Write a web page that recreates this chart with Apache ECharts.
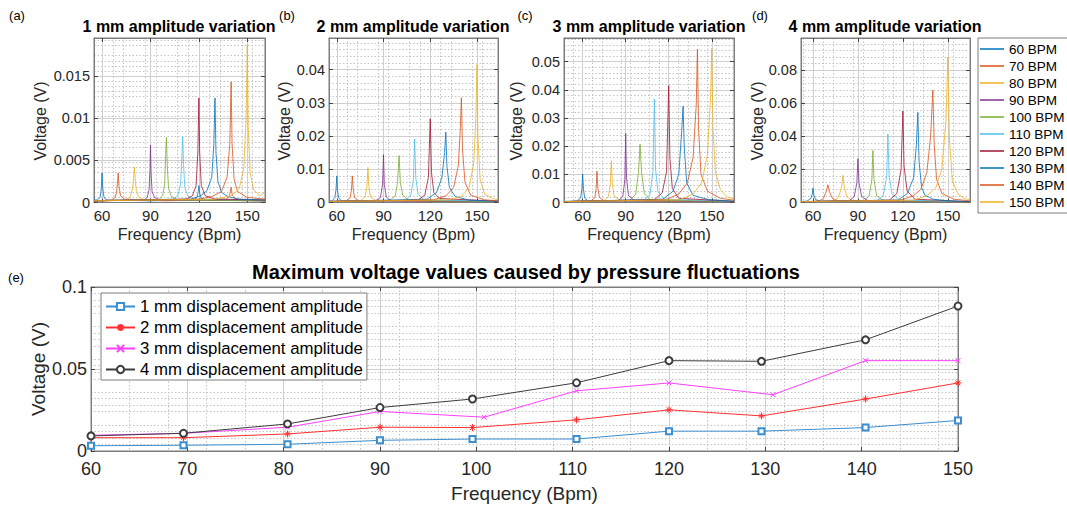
<!DOCTYPE html>
<html><head><meta charset="utf-8">
<script src="https://cdn.jsdelivr.net/npm/echarts@6/dist/echarts.min.js"></script>
<style>html,body{margin:0;padding:0;background:#fff}#c{width:1067px;height:509px}</style>
</head><body><div id="c"></div>
<script>
// ---------------- DATA ----------------
const bpmNames = ['60 BPM','70 BPM','80 BPM','90 BPM','100 BPM','110 BPM','120 BPM','130 BPM','140 BPM','150 BPM'];
const freqTicks = [60, 90, 120, 150];
const yTicks1mm = [0, 0.005, 0.01, 0.015];
const yTicks2mm = [0, 0.01, 0.02, 0.03, 0.04];
const yTicks3mm = [0, 0.01, 0.02, 0.03, 0.04, 0.05];
const yTicks4mm = [0, 0.02, 0.04, 0.06, 0.08];

const spectra1mm = [
 [[55,.0003],[57,.0003],[58.8,.0006],[59.5,.0016],[60,.0035],[60.5,.0016],[61.2,.0006],[63,.0003],[90,.0002],[117,.0003],[119,.0007],[119.6,.0013],[120,.0020],[120.5,.0011],[121.5,.0005],[125,.0003],[161,.0002]],
 [[55,.0002],[66,.0003],[68,.0006],[69,.0012],[69.6,.0024],[70,.0035],[70.5,.0019],[71.5,.0008],[74,.0004],[100,.0002],[137,.0004],[139,.0008],[140,.0018],[140.8,.0008],[143,.0004],[161,.0002]],
 [[55,.0002],[75,.0003],[77.5,.0007],[79,.0017],[79.6,.0030],[80,.0042],[80.5,.0028],[81.3,.0013],[83,.0006],[86,.0003],[161,.0002]],
 [[55,.0002],[86,.0003],[88,.0006],[89.2,.0016],[89.7,.0040],[90,.0068],[90.4,.0035],[91,.0013],[92.5,.0006],[96,.0003],[161,.0002]],
 [[55,.0002],[95,.0003],[97.5,.0008],[98.8,.0022],[99.5,.0060],[99.9,.0077],[100.4,.0045],[101.2,.0017],[103,.0007],[107,.0003],[161,.0002]],
 [[55,.0002],[104,.0004],[107,.0008],[108.7,.0022],[109.5,.0055],[110,.0078],[110.5,.0045],[111.3,.0018],[113,.0008],[117,.0004],[161,.0003]],
 [[55,.0002],[112,.0004],[116,.0008],[118.3,.0020],[119.4,.0060],[120,.0124],[120.5,.0060],[121.5,.0020],[124,.0008],[130,.0004],[161,.0003]],
 [[55,.0002],[115,.0004],[121,.0008],[125,.0014],[128,.0030],[129.3,.0070],[130,.0124],[130.6,.0060],[131.8,.0025],[134,.0012],[138,.0007],[145,.0004],[161,.0003]],
 [[55,.0002],[120,.0004],[128,.0007],[134,.0013],[137.5,.0030],[139.2,.0070],[140,.0143],[140.6,.0070],[141.8,.0028],[144,.0013],[150,.0006],[161,.0004]],
 [[55,.0002],[130,.0004],[140,.0008],[145,.0016],[147.8,.0040],[149.3,.0100],[150,.0187],[150.6,.0090],[151.8,.0035],[154,.0015],[158,.0008],[160.5,.0012],[161,.0013]]
];
const spectra2mm = [
 [[55,.0004],[57,.0005],[58.8,.0015],[59.5,.0038],[60,.0080],[60.5,.0036],[61.2,.0014],[63,.0005],[120,.0004],[163.5,.0003]],
 [[55,.0003],[66,.0005],[68.5,.0014],[69.4,.0036],[70,.0080],[70.6,.0036],[71.5,.0014],[74,.0005],[163.5,.0003]],
 [[55,.0003],[75,.0005],[78,.0016],[79.3,.0045],[80,.0105],[80.6,.0048],[81.7,.0017],[85,.0006],[163.5,.0003]],
 [[55,.0003],[85,.0005],[88,.0015],[89.4,.0055],[90,.0144],[90.5,.0055],[91.8,.0016],[95,.0005],[163.5,.0003]],
 [[55,.0003],[94,.0006],[97.5,.0020],[99,.0060],[100,.0141],[100.8,.0060],[102.3,.0022],[106,.0007],[163.5,.0003]],
 [[55,.0003],[104,.0006],[107.5,.0022],[109.2,.0070],[110,.0191],[110.7,.0075],[112.2,.0025],[116,.0008],[163.5,.0004]],
 [[55,.0003],[112,.0007],[116.5,.0022],[118.8,.0075],[120,.0252],[120.8,.0090],[122.3,.0030],[126,.0012],[163.5,.0004]],
 [[55,.0003],[118,.0010],[124,.0030],[127.5,.0075],[129.2,.0150],[130,.0212],[130.7,.0110],[132.3,.0045],[136,.0018],[145,.0007],[163.5,.0004]],
 [[55,.0003],[122,.0008],[130,.0020],[135,.0045],[138,.0110],[139.3,.0220],[140,.0315],[140.7,.0160],[142.3,.0060],[146,.0022],[155,.0008],[163.5,.0005]],
 [[55,.0003],[132,.0008],[140,.0018],[145,.0045],[148,.0120],[149.4,.0270],[150,.0415],[150.6,.0200],[152,.0070],[155,.0025],[160,.0012],[163.5,.0008]]
];
const spectra3mm = [
 [[47,.0004],[56,.0005],[58.6,.0016],[59.5,.0048],[60,.0101],[60.6,.0045],[61.5,.0015],[64,.0005],[165.5,.0003]],
 [[47,.0003],[66,.0006],[68.5,.0018],[69.4,.0050],[70,.0111],[70.6,.0050],[71.7,.0018],[75,.0006],[165.5,.0003]],
 [[47,.0003],[75,.0006],[78,.0022],[79.3,.0065],[80,.0148],[80.7,.0065],[82,.0022],[86,.0007],[165.5,.0003]],
 [[47,.0003],[85,.0006],[88,.0022],[89.4,.0080],[90,.0245],[90.6,.0085],[92,.0024],[96,.0007],[165.5,.0003]],
 [[47,.0003],[93,.0008],[97,.0030],[99,.0110],[100,.0207],[101,.0110],[103,.0032],[107,.0010],[165.5,.0003]],
 [[47,.0003],[103,.0008],[107,.0030],[109,.0110],[110,.0367],[110.8,.0120],[112.5,.0038],[117,.0012],[165.5,.0004]],
 [[47,.0003],[110,.0010],[115.5,.0035],[118.5,.0110],[120,.0415],[120.8,.0160],[122.5,.0050],[127,.0015],[165.5,.0004]],
 [[47,.0003],[116,.0012],[123,.0040],[127,.0100],[129,.0250],[130,.0342],[130.8,.0200],[132.5,.0070],[137,.0025],[148,.0010],[165.5,.0005]],
 [[47,.0003],[118,.0010],[127,.0030],[133,.0070],[137,.0160],[139.2,.0350],[140,.0545],[140.8,.0260],[142.5,.0100],[147,.0040],[156,.0015],[165.5,.0008]],
 [[47,.0003],[128,.0010],[137,.0030],[143,.0070],[147,.0170],[149.2,.0380],[150,.0547],[150.8,.0270],[152.5,.0110],[156,.0045],[161,.0020],[165.5,.0012]]
];
const spectra4mm = [
 [[52,.0006],[56,.0008],[58.6,.0025],[59.5,.0050],[60,.0087],[60.6,.0045],[61.7,.0018],[65,.0007],[164.8,.0004]],
 [[52,.0005],[64,.0008],[67,.0025],[69,.0070],[70,.0107],[71,.0065],[73,.0025],[77,.0008],[164.8,.0004]],
 [[52,.0005],[74,.0008],[77,.0030],[79,.0090],[80,.0164],[81,.0085],[83,.0030],[87,.0009],[164.8,.0004]],
 [[52,.0005],[84,.0009],[87.5,.0035],[89.3,.0120],[90,.0265],[90.7,.0120],[92.5,.0035],[97,.0010],[164.8,.0004]],
 [[52,.0005],[94,.0010],[97.5,.0040],[99.3,.0140],[100,.0315],[100.7,.0140],[102.5,.0040],[107,.0012],[164.8,.0004]],
 [[52,.0005],[103,.0012],[107,.0045],[109.2,.0160],[110,.0414],[110.8,.0160],[112.8,.0050],[118,.0015],[164.8,.0005]],
 [[52,.0005],[111,.0014],[116,.0055],[118.8,.0200],[120,.0553],[120.8,.0220],[122.8,.0070],[128,.0020],[164.8,.0005]],
 [[52,.0005],[117,.0015],[123,.0055],[127.2,.0150],[129,.0350],[130,.0545],[130.8,.0250],[132.5,.0090],[135,.0040],[137,.0035],[140,.0020],[150,.0010],[164.8,.0006]],
 [[52,.0005],[118,.0014],[127,.0040],[132,.0080],[136,.0180],[138.5,.0400],[140,.0680],[140.9,.0350],[142.5,.0140],[146,.0055],[154,.0020],[164.8,.0010]],
 [[52,.0005],[127,.0014],[136,.0040],[142,.0090],[146,.0200],[148.8,.0500],[150,.0880],[151,.0400],[153,.0130],[157,.0050],[161,.0025],[164.8,.0015]]
];

const ampNames = ['1 mm displacement amplitude','2 mm displacement amplitude','3 mm displacement amplitude','4 mm displacement amplitude'];
const bottomXTicks = [60,70,80,90,100,110,120,130,140,150];
const bottomYTicks = [0, 0.05, 0.1];
const freqA = [60, 69.6, 80.4, 90, 99.6, 110.4, 120, 129.6, 140.4, 150];
const freqB = [60, 69.6, 80.4, 90, 100.8, 110.4, 120, 130.8, 140.4, 150];
const maxV1mm = [0.0032, 0.0035, 0.0041, 0.0065, 0.0073, 0.0073, 0.0121, 0.0121, 0.0143, 0.0186];
const maxV2mm = [0.0081, 0.0081, 0.0104, 0.0145, 0.0143, 0.0190, 0.0251, 0.0214, 0.0317, 0.0415];
const maxV3mm = [0.0096, 0.0108, 0.0145, 0.0241, 0.0206, 0.0367, 0.0415, 0.0343, 0.0551, 0.0551];
const maxV4mm = [0.0092, 0.0108, 0.0165, 0.0265, 0.0317, 0.0416, 0.0551, 0.0547, 0.0678, 0.0884];

// ---------------- STYLE / LAYOUT ----------------
const FONT = '"Liberation Sans", Arial, Helvetica, sans-serif';
const AX = '#262626';
const BORDER = '#7d7d7d';
const MAJOR = '#cfcfcf';
const MINOR = '#c4c4c4';
const lineColors = ['#0072BD','#D95319','#EDB120','#7E2F8E','#77AC30','#4DBEEE','#A2142F','#0072BD','#D95319','#EDB120'];

const panels = [
  {left:94,  width:171, xmin:55, xmax:161,   ymax:0.0195, yticks:yTicks1mm, data:spectra1mm, title:'1 mm amplitude variation', tx:179, letter:'(a)', lx:17,  nx:40},
  {left:329, width:169, xmin:55, xmax:163.5, ymax:0.0495, yticks:yTicks2mm, data:spectra2mm, title:'2 mm amplitude variation', tx:413, letter:'(b)', lx:287, nx:284},
  {left:564, width:170, xmin:47, xmax:165.5, ymax:0.0584, yticks:yTicks3mm, data:spectra3mm, title:'3 mm amplitude variation', tx:649, letter:'(c)', lx:525, nx:516},
  {left:801, width:169, xmin:52, xmax:164.8, ymax:0.0995, yticks:yTicks4mm, data:spectra4mm, title:'4 mm amplitude variation', tx:885, letter:'(d)', lx:760, nx:757}
];

const fmt = v => String(parseFloat(Number(v).toFixed(6)));

function makeAxes(gi, dim, min, max, ticks, minorSplit, labelOpt, nameOpt) {
  const primary = Object.assign({
    type: 'value', gridIndex: gi, position: dim === 'x' ? 'bottom' : 'left',
    min, max,
    axisLine: {show: true, onZero: false, lineStyle: {color: BORDER, width: 1}},
    axisTick: {show: true, inside: true, length: 4, customValues: ticks, lineStyle: {color: '#444'}},
    axisLabel: Object.assign({customValues: ticks, color: AX, fontFamily: FONT, formatter: fmt}, labelOpt),
    splitLine: {show: true, lineStyle: {color: MAJOR, width: 1}},
    minorTick: {show: false, splitNumber: minorSplit},
    minorSplitLine: {show: true, lineStyle: {color: MINOR, width: 1, type: [1.5, 2]}}
  }, nameOpt || {});
  const secondary = {
    type: 'value', gridIndex: gi, position: dim === 'x' ? 'top' : 'right',
    min, max,
    axisLine: {show: true, onZero: false, lineStyle: {color: BORDER, width: 1}},
    axisTick: {show: true, inside: true, length: 4, customValues: ticks, lineStyle: {color: '#444'}},
    axisLabel: {show: false},
    splitLine: {show: false}
  };
  return [primary, secondary];
}

const grids = [], xAxes = [], yAxes = [], series = [], graphics = [];
panels.forEach((p, gi) => {
  grids.push({left: p.left, top: 38, width: p.width, height: 164.5, show: true, borderColor: BORDER, borderWidth: 1, backgroundColor: 'transparent'});
  xAxes.push(...makeAxes(gi, 'x', p.xmin, p.xmax, freqTicks, 3,
    {fontSize: 15, margin: 5},
    {name: 'Frequency (Bpm)', nameLocation: 'middle', nameGap: 24, nameTextStyle: {fontSize: 16, color: AX, fontFamily: FONT}}));
  yAxes.push(...makeAxes(gi, 'y', 0, p.ymax, p.yticks, 5,
    {fontSize: 14.5, margin: 4}, null));
  p.data.forEach((d, k) => {
    series.push({
      type: 'line', name: bpmNames[k], xAxisIndex: 2 * gi, yAxisIndex: 2 * gi,
      data: d, symbol: 'none', smooth: false, z: 3 + k * 0.01,
      color: lineColors[k],
      lineStyle: {width: 1, color: lineColors[k], opacity: 0.8},
      animation: false
    });
  });
  graphics.push({type: 'text', x: p.tx, y: 26, style: {text: p.title, font: 'bold 16px ' + FONT, fill: '#000', align: 'center', verticalAlign: 'middle'}});
  graphics.push({type: 'text', x: p.lx, y: 15, style: {text: p.letter, font: '13px ' + FONT, fill: '#000', align: 'center', verticalAlign: 'middle'}});
  graphics.push({type: 'text', x: p.nx, y: 121, rotation: Math.PI / 2, style: {text: 'Voltage (V)', font: '16px ' + FONT, fill: AX, align: 'center', verticalAlign: 'middle'}});
});

// bottom panel
grids.push({left: 91, top: 287, width: 867, height: 164, show: true, borderColor: BORDER, borderWidth: 1, backgroundColor: 'transparent'});
xAxes.push(...makeAxes(4, 'x', 60, 150, bottomXTicks, 5,
  {fontSize: 18, margin: 9},
  {name: 'Frequency (Bpm)', nameLocation: 'middle', nameGap: 33, nameTextStyle: {fontSize: 19, color: AX, fontFamily: FONT}}));
yAxes.push(...makeAxes(4, 'y', 0, 0.1, bottomYTicks, 5,
  {fontSize: 18, margin: 4}, null));

const zip = (xs, ys) => xs.map((x, i) => [x, ys[i]]);
const asterisk = 'path://M5,0L5,10M0,5L10,5M1.6,1.6L8.4,8.4M8.4,1.6L1.6,8.4';
const cross = 'path://M0,0L10,10M10,0L0,10';
const bottomDefs = [
  {data: zip(freqA, maxV1mm), color: '#3b8ed0', symbol: 'emptyRect', size: 6},
  {data: zip(freqA, maxV2mm), color: '#ff3030', symbol: asterisk, size: 7},
  {data: zip(freqB, maxV3mm), color: '#ff40ff', symbol: cross, size: 5},
  {data: zip(freqA, maxV4mm), color: '#3c3c3c', symbol: 'emptyCircle', size: 7}
];
bottomDefs.forEach((b, k) => {
  series.push({
    type: 'line', name: ampNames[k], xAxisIndex: 8, yAxisIndex: 8,
    data: b.data, symbol: b.symbol, symbolSize: b.size, showSymbol: true, z: 3 + k * 0.01,
    color: b.color,
    lineStyle: {width: 1, color: b.color},
    itemStyle: {color: b.color, borderColor: b.color, borderWidth: 1},
    animation: false
  });
});
graphics.push({type: 'text', x: 526, y: 272, style: {text: 'Maximum voltage values caused by pressure fluctuations', font: 'bold 20px ' + FONT, fill: '#000', align: 'center', verticalAlign: 'middle'}});
graphics.push({type: 'text', x: 16, y: 277, style: {text: '(e)', font: '13px ' + FONT, fill: '#000', align: 'center', verticalAlign: 'middle'}});
graphics.push({type: 'text', x: 38, y: 369, rotation: Math.PI / 2, style: {text: 'Voltage (V)', font: '19px ' + FONT, fill: AX, align: 'center', verticalAlign: 'middle'}});

const chart = echarts.init(document.getElementById('c'), null, {renderer: 'svg', width: 1067, height: 509});
chart.setOption({
  animation: false,
  backgroundColor: '#fff',
  textStyle: {fontFamily: FONT},
  grid: grids, xAxis: xAxes, yAxis: yAxes, series,
  legend: [
    {data: bpmNames, orient: 'vertical', left: 978, top: 38, padding: [4, 5, 4, 2],
     icon: 'rect', itemWidth: 24, itemHeight: 1.5, itemGap: 3, selectedMode: false,
     textStyle: {fontSize: 13.5, lineHeight: 14, height: 14, color: '#000', fontFamily: FONT},
     borderColor: BORDER, borderWidth: 1, backgroundColor: '#fff'},
    {data: ampNames, orient: 'vertical', left: 101, top: 293, padding: [5, 4, 2, 4],
     itemWidth: 29, itemHeight: 9, itemGap: 4, selectedMode: false,
     textStyle: {fontSize: 16.8, lineHeight: 17, color: '#000', fontFamily: FONT},
     borderColor: BORDER, borderWidth: 1, backgroundColor: '#fff'}
  ],
  graphic: graphics
});
</script>
</body></html>
